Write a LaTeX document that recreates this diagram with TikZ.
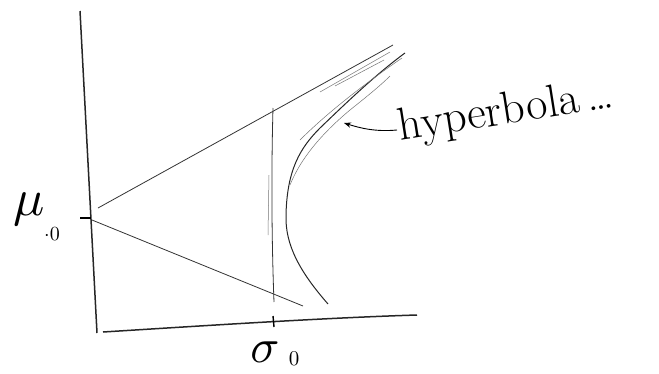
\documentclass[tikz,border=0pt]{standalone}
\usepackage{amsmath}
\usepackage{graphicx}
\usepackage{fontspec}
\usetikzlibrary{arrows.meta,calc}

\tikzset{
  axisline/.style={line width=1.5pt, black!85},
  sketchline/.style={line width=0.8pt, black!80},
  faintline/.style={line width=0.5pt, black!55},
}

\begin{document}
\begin{tikzpicture}[x=1pt, y=-1pt, >=Stealth]
  % image is 659 x 373 px, 1px -> 1pt, y runs downwards
  \useasboundingbox (0,0) rectangle (659,373);

  % key points
  \coordinate (top) at (80,11);
  \coordinate (corner) at (97,333);
  \coordinate (mu0) at (91,218);
  \coordinate (sig0) at (273,321);
  \coordinate (xend) at (417,315);

  % Axes
  \draw[axisline] (top) -- (corner);
  \draw[axisline] (103,332) .. controls (200,326) and (320,318) .. (xend);

  % Ticks at mu_0 and sigma_0
  \draw[line width=1.2pt] (80,218) -- (mu0);
  \draw[line width=1.4pt] ($(sig0)+(0,-5)$) -- ($(sig0)+(1,6)$);

  % Asymptotes through (sigma, mu) = (0, mu_0)
  \draw[sketchline] (98,208) -- (393,45);
  \draw[sketchline] (92,220) -- (303,306);
  % doubled strokes near the top
  \draw[faintline] (320,92) -- (390,52);
  \draw[faintline] (335,86) -- (384,60);

  % Vertical line at sigma_0
  \draw[sketchline] (273,108) .. controls (271,180) and (272,250) .. (274,302);
  \draw[faintline] (269,175) -- (268,235);

  % Hyperbola (right branch)
  \draw[line width=1pt, black!85] (328,304) .. controls (300,272) and (285,245) .. (286,215)
    .. controls (287,170) and (300,148) .. (320,128)
    .. controls (345,104) and (375,75) .. (405,53);
  \draw[faintline] (290,185) .. controls (300,160) and (320,135) .. (350,110)
    .. controls (365,98) and (380,86) .. (390,76);
  \draw[faintline] (300,140) .. controls (330,110) and (370,80) .. (402,58);

  % Labels
  \node[inner sep=1pt] (mulab) at (29,209) {\scalebox{5.2}{$\mu$}};
  \node[inner sep=1pt] (musub) at (52,234) {\scalebox{2}{$\cdot 0$}};
  \node[inner sep=1pt] (siglab) at (265,352) {\scalebox{4.8}{$\sigma$}};
  \node[inner sep=1pt] (sigsub) at (294,359) {\scalebox{2.1}{$0$}};

  % Arrow label
  \node[rotate=9, anchor=west, inner sep=2pt] (hyp) at (397,130)
    {\fontsize{46}{46}\selectfont\addfontfeatures{LetterSpace=9}hyperbola\,\dots};
  \draw[->, line width=0.9pt] (hyp.west) .. controls (375,132) and (360,128) .. (344,123);
\end{tikzpicture}
\end{document}
